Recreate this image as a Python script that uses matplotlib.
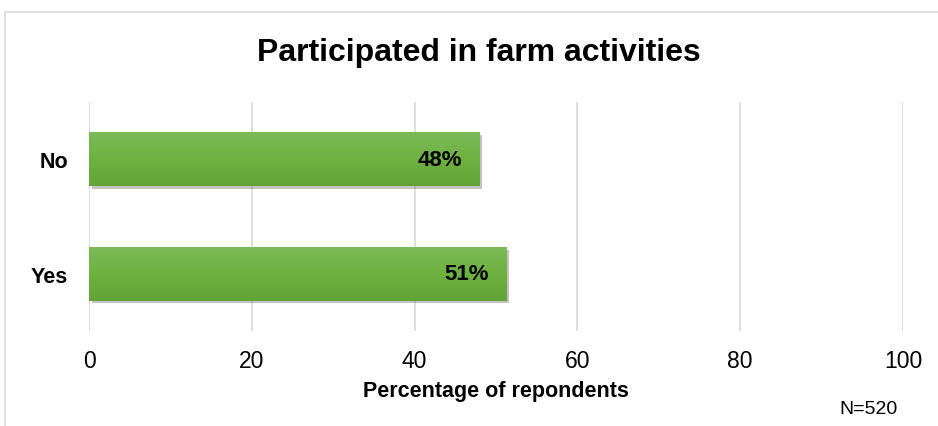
import numpy as np
import matplotlib
matplotlib.use('Agg')
import matplotlib.pyplot as plt
from matplotlib import patheffects
from matplotlib.colors import LinearSegmentedColormap
from matplotlib.patches import Rectangle

plt.rcParams['font.family'] = ['Liberation Sans', 'DejaVu Sans']

# 데이터
categories = ['Yes', 'No']
percent = [51.3, 48.0]
n_total = 520

fig = plt.figure(figsize=(9.38, 4.27), dpi=100)
ax = fig.add_axes([89 / 938, 1 - 332 / 427, (903 - 89) / 938, (332 - 103) / 427])

# 바깥 테두리
fig.patches.append(Rectangle((5 / 938, -0.05), 1.0, 1 - 13 / 427 + 0.05,
                             transform=fig.transFigure, fill=False,
                             edgecolor='#d9d9d9', linewidth=1.2))

bars = ax.barh(categories, percent, height=0.47, color='#6aac40', zorder=3,
               path_effects=[patheffects.withSimplePatchShadow(offset=(2, -2), shadow_rgbFace='#555555', alpha=0.35),
                             patheffects.Normal()])

# 막대 그라데이션
cmap = LinearSegmentedColormap.from_list('g', ['#62a337', '#6eb240', '#7cba58'])
grad = np.linspace(0, 1, 64).reshape(-1, 1)
for bar in bars:
    x0, y0 = bar.get_x(), bar.get_y()
    img = ax.imshow(grad, cmap=cmap, aspect='auto', origin='lower',
                    extent=(x0, x0 + bar.get_width(), y0, y0 + bar.get_height()), zorder=4)
    img.set_clip_path(bar)

for bar, v in zip(bars, percent):
    ax.annotate(f"{round(v)}%", (bar.get_width(), bar.get_y() + bar.get_height() / 2),
                xytext=(-18, 0), textcoords='offset pixels', ha='right', va='center',
                fontsize=16, fontweight='bold', zorder=5)

ax.set_xlim(0, 100)
ax.set_ylim(-0.5, 1.5)
ax.set_xticks([0, 20, 40, 60, 80, 100])
ax.grid(axis='x', color='#d9d9d9', linewidth=1.2, zorder=0)
ax.set_axisbelow(True)
for s in ax.spines.values():
    s.set_visible(False)
ax.tick_params(axis='both', length=0)
ax.tick_params(axis='x', labelsize=16.5, pad=13)
ax.tick_params(axis='y', pad=15)
for lbl in ax.get_yticklabels():
    lbl.set_fontsize(15.5)
    lbl.set_fontweight('bold')

ax.set_xlabel('Percentage of repondents', fontsize=15.5, fontweight='bold', labelpad=6)
fig.text(479 / 938, 1 - 53 / 427, 'Participated in farm activities',
         ha='center', va='center', fontsize=23, fontweight='bold')
fig.text(898 / 938, 1 - 410 / 427, f'N={n_total}', ha='right', va='center', fontsize=14)

fig.savefig('out.png', dpi=100)
